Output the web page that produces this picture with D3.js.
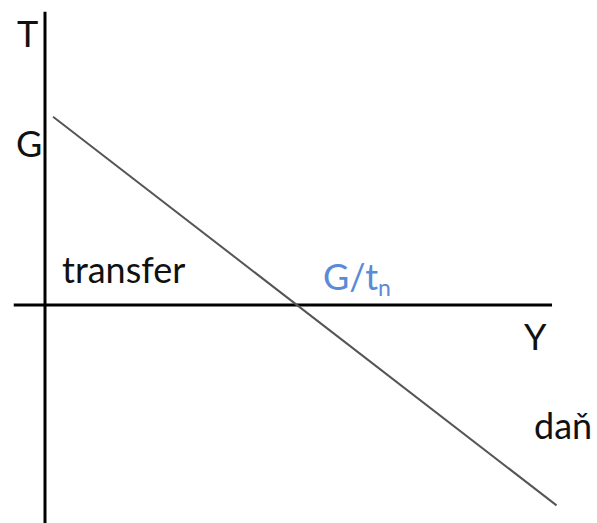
<!DOCTYPE html>
<html>
<head>
<meta charset="utf-8">
<script src="https://cdn.jsdelivr.net/npm/d3@7"></script>
<style>
  body { margin: 0; background: #fff; }
  text { font-family: Lato, "Open Sans", sans-serif; }
</style>
</head>
<body>
<div id="chart"></div>
<script>
// Chart size
var svgWidth = 597;
var svgHeight = 523;

// Axis extents (Y = income, T = net tax)
var yAxisExtent = [-0.62, 10.06];
var tAxisExtent = [-4.49, 6.03];

// Tax function end points
var lineIncome = [0.16, 10.15];
var lineTax = [3.87, -4.12];

// Labels
var interceptG = 4;
var breakEven = 5;
var axisLabels = ["T", "Y"];
var regionLabels = ["transfer", "daň"];

var svg = d3.select("#chart")
    .append("svg")
    .attr("width", svgWidth)
    .attr("height", svgHeight);

var xScale = d3.scaleLinear()
    .domain([0, breakEven])
    .range([45, 297]);

var yScale = d3.scaleLinear()
    .domain([0, interceptG])
    .range([305, 110.5]);

// Axes drawn as plain lines through the origin
svg.append("line")
    .attr("x1", xScale(0)).attr("x2", xScale(0))
    .attr("y1", yScale(tAxisExtent[1])).attr("y2", yScale(tAxisExtent[0]))
    .attr("stroke", "#000")
    .attr("stroke-width", 3);

svg.append("line")
    .attr("x1", xScale(yAxisExtent[0])).attr("x2", xScale(yAxisExtent[1]))
    .attr("y1", yScale(0)).attr("y2", yScale(0))
    .attr("stroke", "#000")
    .attr("stroke-width", 3);

// Tax line
var pts = lineIncome.map((d, i) => [d, lineTax[i]]);
var line = d3.line()
    .x(d => xScale(d[0]))
    .y(d => yScale(d[1]));

svg.append("path")
    .datum(pts)
    .attr("d", line)
    .attr("fill", "none")
    .attr("stroke", "#555")
    .attr("stroke-width", 2);

// Axis names
svg.append("text")
    .attr("x", 17).attr("y", 47)
    .attr("font-size", 36)
    .attr("fill", "#111")
    .text(axisLabels[0]);

svg.append("text")
    .attr("x", 524).attr("y", 350)
    .attr("font-size", 36)
    .attr("fill", "#111")
    .text(axisLabels[1]);

// G on the vertical axis
svg.append("text")
    .attr("x", 16).attr("y", 157)
    .attr("font-size", 36)
    .attr("fill", "#111")
    .text("G");

// Region labels
svg.append("text")
    .attr("x", 62).attr("y", 283)
    .attr("font-size", 36)
    .attr("fill", "#111")
    .text(regionLabels[0]);

svg.append("text")
    .attr("x", 534).attr("y", 439)
    .attr("font-size", 36)
    .attr("fill", "#111")
    .text(regionLabels[1]);

// Break-even income G/t_n
var ge = svg.append("text")
    .attr("x", 323).attr("y", 290)
    .attr("font-size", 36)
    .attr("fill", "#5b8bd6");
ge.append("tspan").text("G/t");
ge.append("tspan")
    .attr("font-size", 23)
    .attr("dy", 6)
    .text("n");
</script>
</body>
</html>
